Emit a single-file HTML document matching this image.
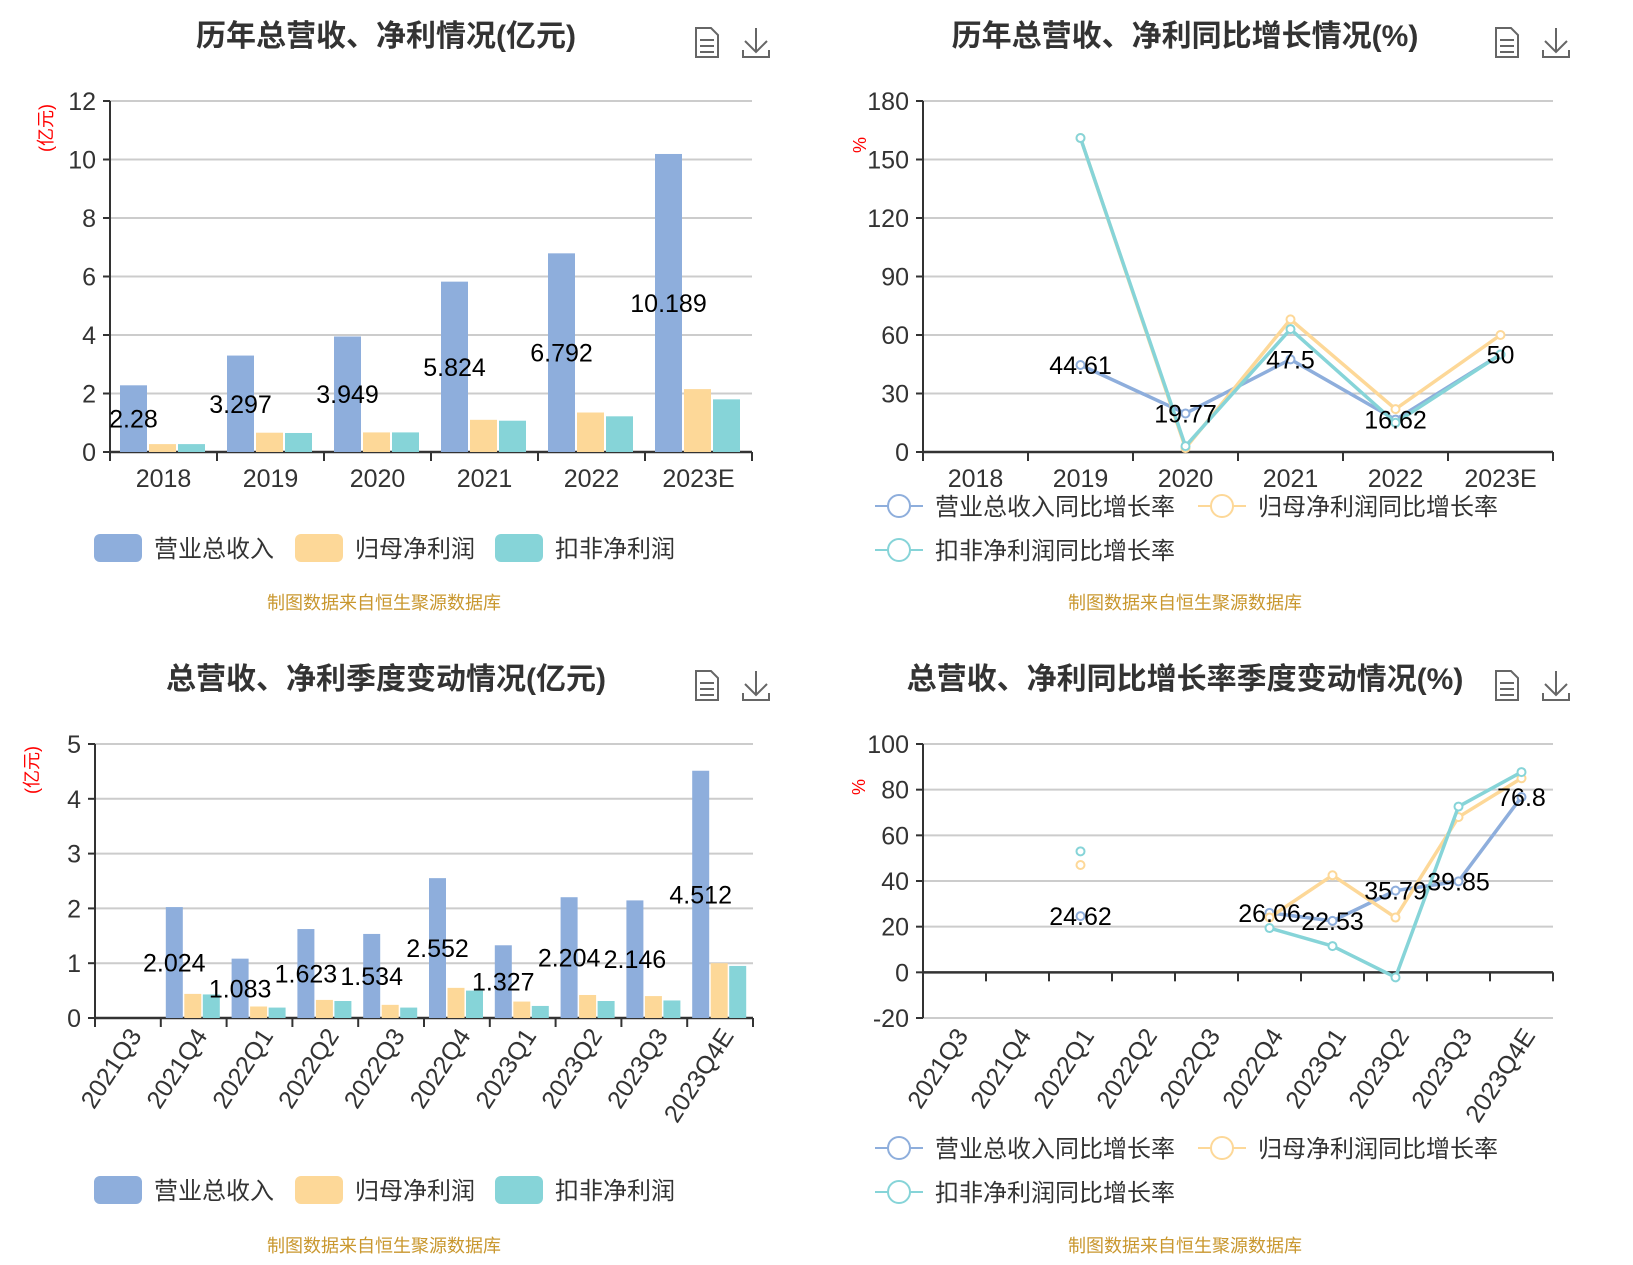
<!DOCTYPE html>
<html><head><meta charset="utf-8">
<style>
html,body{margin:0;padding:0;background:#fff;}
svg{display:block;font-family:"Liberation Sans","Noto Sans CJK SC",sans-serif;}
</style></head>
<body>
<svg id="root" width="1633" height="1265" viewBox="0 0 1633 1265" xmlns="http://www.w3.org/2000/svg">
<g>
<text x="386" y="46" text-anchor="middle" font-size="30" font-weight="bold" fill="#333">历年总营收、净利情况(亿元)</text>
<text transform="translate(52,128) rotate(-90)" text-anchor="middle" font-size="18" fill="#f00">(亿元)</text>
<text x="384" y="609" text-anchor="middle" font-size="18" fill="#c9972e">制图数据来自恒生聚源数据库</text>
</g>
<g>
<text x="1185" y="46" text-anchor="middle" font-size="30" font-weight="bold" fill="#333">历年总营收、净利同比增长情况(%)</text>
<text transform="translate(866,145) rotate(-90)" text-anchor="middle" font-size="18" fill="#f00">%</text>
<text x="1185" y="609" text-anchor="middle" font-size="18" fill="#c9972e">制图数据来自恒生聚源数据库</text>
</g>
<g>
<text x="386" y="689" text-anchor="middle" font-size="30" font-weight="bold" fill="#333">总营收、净利季度变动情况(亿元)</text>
<text transform="translate(38,770) rotate(-90)" text-anchor="middle" font-size="18" fill="#f00">(亿元)</text>
<text x="384" y="1252" text-anchor="middle" font-size="18" fill="#c9972e">制图数据来自恒生聚源数据库</text>
</g>
<g>
<text x="1185" y="689" text-anchor="middle" font-size="30" font-weight="bold" fill="#333">总营收、净利同比增长率季度变动情况(%)</text>
<text transform="translate(865,787) rotate(-90)" text-anchor="middle" font-size="18" fill="#f00">%</text>
<text x="1185" y="1252" text-anchor="middle" font-size="18" fill="#c9972e">制图数据来自恒生聚源数据库</text>
</g>
</svg>
<script>
// ---- data ----
const yearCats = ["2018","2019","2020","2021","2022","2023E"];
const yearRevenue = [2.28,3.297,3.949,5.824,6.792,10.189];
const yearNetProfit = [0.27,0.66,0.67,1.1,1.35,2.15];
const yearDeductProfit = [0.27,0.65,0.67,1.07,1.22,1.8];
const yearTicks = [0,2,4,6,8,10,12];

const yearRevenueGrowth = [null,44.61,19.77,47.5,16.62,50];
const yearNetGrowth = [null,161,2,68,22,60];
const yearDeductGrowth = [null,161,3,63,15,50];
const yearGrowthTicks = [0,30,60,90,120,150,180];

const qCats = ["2021Q3","2021Q4","2022Q1","2022Q2","2022Q3","2022Q4","2023Q1","2023Q2","2023Q3","2023Q4E"];
const qRevenue = [null,2.024,1.083,1.623,1.534,2.552,1.327,2.204,2.146,4.512];
const qNetProfit = [null,0.44,0.21,0.33,0.24,0.55,0.3,0.42,0.4,1.0];
const qDeductProfit = [null,0.43,0.19,0.31,0.19,0.5,0.22,0.31,0.32,0.95];
const qTicks = [0,1,2,3,4,5];

const qRevenueGrowth = [null,null,24.62,null,null,26.06,22.53,35.79,39.85,76.8];
const qNetGrowth = [null,null,47,null,null,24,42.5,24,68,85];
const qDeductGrowth = [null,null,53,null,null,19.4,11.5,-2.2,72.6,87.7];
const qGrowthTicks = [-20,0,20,40,60,80,100];

const C_BLUE="#8eaedc", C_ORANGE="#fdd898", C_TEAL="#86d4d8";
const NS="http://www.w3.org/2000/svg";
const root=document.getElementById('root');
function mk(tag,attrs,parent,txt){const e=document.createElementNS(NS,tag);for(const k in attrs)e.setAttribute(k,attrs[k]);if(txt!==undefined)e.textContent=txt;(parent||root).appendChild(e);return e;}

function axes(g,x0,x1,yTop,yBot,ticks,cats,rotate){
  const min=ticks[0],max=ticks[ticks.length-1];
  const y=v=>yBot-(v-min)/(max-min)*(yBot-yTop);
  ticks.forEach(t=>{
    const gl=mk('line',{x1:x0,x2:x1,y1:y(t),y2:y(t),stroke:'#ccc','stroke-width':2},g);
    
    
    const tl=mk('text',{x:x0-14,y:y(t)+9,'text-anchor':'end','font-size':25,fill:'#333'},g,String(t));
    
    
    mk('line',{x1:x0-7,x2:x0,y1:y(t),y2:y(t),stroke:'#333','stroke-width':2},g);
  });
  const ya=mk('line',{x1:x0,x2:x0,y1:yTop,y2:yBot,stroke:'#333','stroke-width':2},g);
  
  
  const zy=y(Math.max(0,min));
  const xa=mk('line',{x1:x0,x2:x1,y1:zy,y2:zy,stroke:'#333','stroke-width':2.5},g);
  
  
  const bw=(x1-x0)/cats.length;
  for(let i=0;i<=cats.length;i++){mk('line',{x1:x0+i*bw,x2:x0+i*bw,y1:zy,y2:zy+9,stroke:'#333','stroke-width':2},g);}
  const xl=i=>x0+(i+0.5)*bw;
  cats.forEach((c,i)=>{
    let t;
    if(rotate){
      const ly=yBot+14;
      t=mk('text',{x:0,y:0,'text-anchor':'end','font-size':25,fill:'#333',transform:`translate(${xl(i)+9},${ly}) rotate(-57)`,'dominant-baseline':'middle'},g,c);
    } else {
      t=mk('text',{x:xl(i),y:zy+35,'text-anchor':'middle','font-size':25,fill:'#333'},g,c);
    }
    
    
  });
  return {y,bw,xl};
}

function barChart(name,x0,x1,yTop,yBot,ticks,cats,s1,s2,s3,pad,barW,gap,rotate){
  const g=mk('g',{});
  
  
  const a=axes(g,x0,x1,yTop,yBot,ticks,cats,rotate);
  const series=[[s1,C_BLUE,'revenue'],[s2,C_ORANGE,'net-profit'],[s3,C_TEAL,'deducted-profit']];
  cats.forEach((c,i)=>{
    series.forEach((s,k)=>{
      const v=s[0][i]; if(v==null)return;
      const bx=x0+i*a.bw+pad+k*(barW+gap);
      const r=mk('rect',{x:bx,y:a.y(v),width:barW,height:a.y(0)-a.y(v),fill:s[1]},g);
      
      
    });
  });
  cats.forEach((c,i)=>{
    const v=s1[i]; if(v==null)return;
    const bx=x0+i*a.bw+pad+barW/2;
    const t=mk('text',{x:bx,y:a.y(v/2)+9,'text-anchor':'middle','font-size':25,fill:'#000'},g,String(v));
    
    
  });
}

function lineChart(name,x0,x1,yTop,yBot,ticks,cats,s1,s2,s3,rotate){
  const g=mk('g',{});
  
  
  const a=axes(g,x0,x1,yTop,yBot,ticks,cats,rotate);
  const series=[[s1,C_BLUE,'revenue-growth'],[s2,C_ORANGE,'net-growth'],[s3,C_TEAL,'deducted-growth']];
  series.forEach(s=>{
    let segs=[],cur=[];
    s[0].forEach((v,i)=>{if(v==null){if(cur.length)segs.push(cur);cur=[];}else cur.push([a.xl(i),a.y(v)]);});
    if(cur.length)segs.push(cur);
    segs.forEach(seg=>{
      if(seg.length>1){
        const p=mk('polyline',{points:seg.map(q=>q.join(',')).join(' '),fill:'none',stroke:s[1],'stroke-width':3.5,'stroke-linejoin':'round'},g);
        
        
      }
      seg.forEach(q=>{
        const c=mk('circle',{cx:q[0],cy:q[1],r:4,fill:'#fff',stroke:s[1],'stroke-width':2},g);
        
        
      });
    });
  });
  s1.forEach((v,i)=>{
    if(v==null)return;
    const t=mk('text',{x:a.xl(i),y:a.y(v)+9,'text-anchor':'middle','font-size':25,fill:'#000'},g,String(v));
    
    
  });
}

function barLegend(y){
  const items=[["营业总收入",C_BLUE,94],["归母净利润",C_ORANGE,295],["扣非净利润",C_TEAL,495]];
  items.forEach(it=>{
    const g=mk('g',{});
    
    
    mk('rect',{x:it[2],y:y-14,width:48,height:28,rx:6,fill:it[1]},g);
    mk('text',{x:it[2]+60,y:y+9,'font-size':24,fill:'#333'},g,it[0]);
  });
}
function lineLegend(y1,y2){
  const items=[["营业总收入同比增长率",C_BLUE,875,y1],["归母净利润同比增长率",C_ORANGE,1198,y1],["扣非净利润同比增长率",C_TEAL,875,y2]];
  items.forEach(it=>{
    const g=mk('g',{});
    
    
    mk('line',{x1:it[2],x2:it[2]+48,y1:it[3],y2:it[3],stroke:it[1],'stroke-width':2},g);
    mk('circle',{cx:it[2]+24,cy:it[3],r:11,fill:'#fff',stroke:it[1],'stroke-width':2},g);
    mk('text',{x:it[2]+60,y:it[3]+9,'font-size':24,fill:'#333'},g,it[0]);
  });
}
function icons(dx,dy){
  const g1=mk('g',{fill:'none',stroke:'#666','stroke-width':2});
  
  
  mk('path',{d:`M${dx+696} ${dy+28} L${dx+711} ${dy+28} L${dx+718} ${dy+35} L${dx+718} ${dy+57} L${dx+696} ${dy+57} Z M${dx+700} ${dy+40} L${dx+714} ${dy+40} M${dx+700} ${dy+46} L${dx+714} ${dy+46} M${dx+700} ${dy+52} L${dx+714} ${dy+52}`},g1);
  const g2=mk('g',{fill:'none',stroke:'#666','stroke-width':2});
  
  
  mk('path',{d:`M${dx+756} ${dy+28} L${dx+756} ${dy+52} M${dx+745} ${dy+41} L${dx+756} ${dy+52} L${dx+767} ${dy+41} M${dx+743} ${dy+50} L${dx+743} ${dy+57} L${dx+769} ${dy+57} L${dx+769} ${dy+50}`},g2);
}

barChart('annual-bar-plot',110,752,101,452,yearTicks,yearCats,yearRevenue,yearNetProfit,yearDeductProfit,10,27,2,false);
lineChart('annual-growth-plot',923,1553,101,452,yearGrowthTicks,yearCats,yearRevenueGrowth,yearNetGrowth,yearDeductGrowth,false);
barChart('quarterly-bar-plot',95,753,744,1018,qTicks,qCats,qRevenue,qNetProfit,qDeductProfit,5,17,1.5,true);
lineChart('quarterly-growth-plot',923,1553,744,1018,qGrowthTicks,qCats,qRevenueGrowth,qNetGrowth,qDeductGrowth,true);

barLegend(548);
barLegend(1190);
lineLegend(506,550);
lineLegend(1148,1192);
icons(0,0);icons(800,0);icons(0,643);icons(800,643);
</script>
</body></html>
